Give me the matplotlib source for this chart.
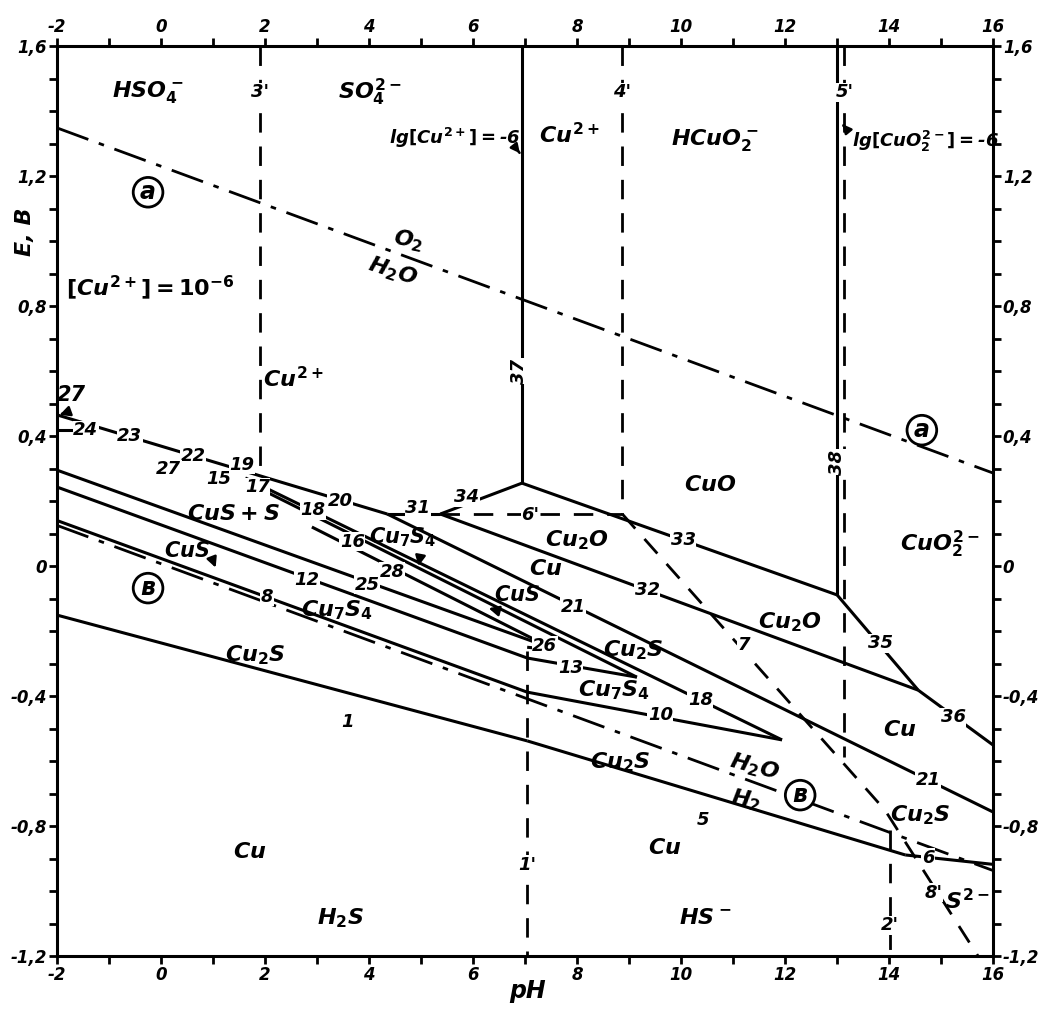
import numpy as np
import matplotlib
matplotlib.use("Agg")
import matplotlib.pyplot as plt
from matplotlib.ticker import MultipleLocator, FuncFormatter

plt.rcParams["font.family"] = ["DejaVu Sans"]
plt.rcParams["mathtext.fontset"] = "custom"
plt.rcParams["mathtext.rm"] = "DejaVu Sans:bold"
plt.rcParams["mathtext.it"] = "DejaVu Sans:italic:bold"
plt.rcParams["mathtext.bf"] = "DejaVu Sans:bold"
plt.rcParams["axes.unicode_minus"] = False

# ---- axis ranges / ticks ----
ph_range = [-2, 16]
e_range = [-1.2, 1.6]
x_ticks = [-2, 0, 2, 4, 6, 8, 10, 12, 14, 16]
y_ticks = [-1.2, -0.8, -0.4, 0.0, 0.4, 0.8, 1.2, 1.6]

# ---- water stability lines (dash-dot) ----
o2_ph = [-2, 16]
o2_e = [1.348, 0.286]
h2_ph = [-2, 16]
h2_e = [0.125, -0.937]

# ---- solid boundaries (pH list, E list) ----
b_upper = ([-2, 4.35], [0.465, 0.16])            # 23-22-19-20
b_24 = ([-2, -1.21], [0.418, 0.418])
b_31 = ([4.35, 5.37], [0.16, 0.16])
b_34 = ([5.37, 6.94], [0.16, 0.255])
b_37 = ([6.94, 6.94], [0.255, 1.6])
b_33 = ([6.94, 13.0], [0.255, -0.089])
b_38 = ([13.0, 13.0], [-0.089, 1.6])
b_35 = ([13.0, 14.56], [-0.089, -0.382])
b_36 = ([14.56, 16.0], [-0.382, -0.551])
b_32 = ([5.37, 14.56], [0.16, -0.382])
b_21 = ([4.35, 16.0], [0.16, -0.757])
b_18 = ([1.62, 11.94], [0.271, -0.535])
b_16 = ([1.75, 9.15], [0.25, -0.342])
b_28 = ([2.9, 7.6], [0.12, -0.26])
b_25 = ([-2, 7.6], [0.295, -0.258])
b_12 = ([-2, 7.04], [0.243, -0.283])
b_26 = ([7.04, 7.6], [-0.25, -0.258])
b_13 = ([7.04, 9.15], [-0.283, -0.342])
b_8 = ([-2, 7.04], [0.14, -0.388])
b_10 = ([7.04, 11.94], [-0.388, -0.535])
b_1 = ([-2, 7.04], [-0.151, -0.538])
b_5 = ([7.04, 14.31], [-0.538, -0.889])
b_6 = ([14.31, 16.0], [-0.889, -0.918])
solid_lines = [b_upper, b_24, b_31, b_34, b_37, b_33, b_38, b_35, b_36, b_32,
               b_21, b_18, b_16, b_28, b_25, b_12, b_26, b_13, b_8, b_10,
               b_1, b_5, b_6]

# ---- dashed boundaries (sulfur species) ----
d_3 = ([1.9, 1.9], [1.6, 0.28])
d_4 = ([8.87, 8.87], [1.6, 0.16])
d_5 = ([13.13, 13.13], [1.6, -0.588])
d_1 = ([7.04, 7.04], [-0.26, -1.2])
d_2 = ([14.02, 14.02], [-0.812, -1.2])
d_6 = ([5.37, 8.87], [0.16, 0.16])
d_7 = ([8.87, 13.92, 15.71], [0.16, -0.751, -1.2])
dashed_lines = [d_3, d_4, d_5, d_1, d_2, d_6, d_7]

# ---- number labels sitting on the lines ----
num_labels = [
    ("24", -1.45, 0.418), ("23", -0.6, 0.40), ("22", 0.62, 0.338),
    ("27", 0.15, 0.298), ("15", 1.1, 0.268), ("19", 1.55, 0.312),
    ("17", 1.85, 0.243), ("20", 3.44, 0.20), ("18", 2.92, 0.172),
    ("31", 4.94, 0.178), ("34", 5.88, 0.212), ("16", 3.68, 0.075),
    ("28", 4.44, -0.018), ("12", 2.81, -0.043), ("25", 3.96, -0.058),
    ("8", 2.04, -0.095), ("1", 3.58, -0.48), ("33", 10.04, 0.08),
    ("21", 7.92, -0.126), ("32", 9.35, -0.074), ("26", 7.38, -0.245),
    ("13", 7.87, -0.314), ("18", 10.37, -0.412), ("10", 9.6, -0.458),
    ("7", 11.2, -0.243), ("35", 13.83, -0.237), ("36", 15.23, -0.465),
    ("21", 14.75, -0.658), ("5", 10.42, -0.782), ("6", 14.75, -0.898),
]
prime_labels = [
    ("3'", 1.9, 1.458), ("4'", 8.87, 1.458), ("5'", 13.15, 1.458),
    ("6'", 7.1, 0.157), ("1'", 7.04, -0.92), ("2'", 14.02, -1.105),
    ("8'", 14.85, -1.005),
]

# ---- region (species) labels ----
region_labels = [
    (r"$HSO_4^-$", -0.25, 1.458), (r"$SO_4^{2-}$", 4.02, 1.458),
    (r"$Cu^{2+}$", 7.85, 1.326), (r"$HCuO_2^-$", 10.65, 1.31),
    (r"$Cu^{2+}$", 2.54, 0.578), (r"$[Cu^{2+}]=10^{-6}$", -0.21, 0.855),
    (r"$CuS+S$", 1.4, 0.16), (r"$Cu_2S$", 1.81, -0.274),
    (r"$Cu_7S_4$", 3.38, -0.135), (r"$Cu$", 1.71, -0.88),
    (r"$H_2S$", 3.44, -1.083), (r"$CuO$", 10.56, 0.249),
    (r"$Cu_2O$", 8.0, 0.08), (r"$Cu$", 7.4, -0.01),
    (r"$Cu_2S$", 9.08, -0.258), (r"$Cu_7S_4$", 8.7, -0.382),
    (r"$Cu_2O$", 12.1, -0.172), (r"$CuO_2^{2-}$", 14.98, 0.065),
    (r"$Cu$", 14.21, -0.505), (r"$Cu_2S$", 14.6, -0.766),
    (r"$Cu_2S$", 8.83, -0.603), (r"$Cu$", 9.69, -0.868),
    (r"$HS^-$", 10.46, -1.083), (r"$S^{2-}$", 15.5, -1.03),
]

# ---- annotated labels with arrows: (text, text pos, arrow target) ----
arrow_labels = [
    (r"$lg[Cu^{2+}]=$-6", (5.65, 1.317), (6.9, 1.27), 13),
    (r"$lg[CuO_2^{2-}]=$-6", (14.7, 1.305), (13.1, 1.36), 13),
    ("27", (-1.72, 0.525), (-1.95, 0.465), 15),
    (r"$Cu_7S_4$", (4.65, 0.09), (4.95, 0.0), 15),
    (r"$CuS$", (0.5, 0.046), (1.05, -0.005), 15),
    (r"$CuS$", (6.85, -0.09), (6.3, -0.13), 15),
]


def main():
    fig = plt.figure(figsize=(10.41, 10.09), dpi=100)
    ax = fig.add_axes([0.0548, 0.0525, 0.8992, 0.9019])
    ax.set_xlim(ph_range)
    ax.set_ylim(e_range)

    ax.plot(o2_ph, o2_e, color="black", lw=2.0, dashes=(12, 4, 2, 4))
    ax.plot(h2_ph, h2_e, color="black", lw=2.0, dashes=(12, 4, 2, 4))

    for ph, e in solid_lines:
        ax.plot(ph, e, color="black", lw=2.2, solid_capstyle="butt")
    for ph, e in dashed_lines:
        ax.plot(ph, e, color="black", lw=2.0, dashes=(7, 5))

    box = dict(facecolor="white", edgecolor="none", pad=0.4)
    for txt, x, y in num_labels + prime_labels:
        ax.text(x, y, txt, fontsize=13, style="italic", weight="bold",
                ha="center", va="center", bbox=box)

    ax.text(6.88, 0.6, "37", rotation=90, fontsize=13, style="italic",
            weight="bold", ha="center", va="center", bbox=box)
    ax.text(13.0, 0.32, "38", rotation=90, fontsize=13, style="italic",
            weight="bold", ha="center", va="center", bbox=box)

    for txt, x, y in region_labels:
        ax.text(x, y, txt, fontsize=16, ha="center", va="center")

    ax.text(4.75, 1.0, r"$O_2$", fontsize=16, rotation=-12,
            ha="center", va="center")
    ax.text(4.45, 0.905, r"$H_2O$", fontsize=16, rotation=-18,
            ha="center", va="center")
    ax.text(11.4, -0.62, r"$H_2O$", fontsize=16, rotation=-15,
            ha="center", va="center")
    ax.text(11.25, -0.72, r"$H_2$", fontsize=16, rotation=-10,
            ha="center", va="center")

    circ = dict(boxstyle="circle,pad=0.12", facecolor="white",
                edgecolor="black", lw=2.0)
    for x, y, txt in [(-0.25, 1.15, "a"), (14.63, 0.418, "a"),
                      (-0.25, -0.068, "в"), (12.29, -0.705, "в")]:
        ax.text(x, y, txt, fontsize=17, style="italic", weight="bold",
                ha="center", va="center", bbox=circ)

    for txt, (tx, ty), (px, py), fs in arrow_labels:
        ax.annotate(txt, xy=(px, py), xytext=(tx, ty), fontsize=fs,
                    style="italic", weight="bold", ha="center", va="center",
                    arrowprops=dict(arrowstyle="-|>", color="black", lw=1.8,
                                    connectionstyle="arc3,rad=-0.4",
                                    shrinkA=6, shrinkB=0))

    # axes and ticks on all four sides
    for sp in ax.spines.values():
        sp.set_linewidth(2.2)
    ax.xaxis.set_minor_locator(MultipleLocator(1))
    ax.yaxis.set_minor_locator(MultipleLocator(0.1))
    ax.set_xticks(x_ticks)
    ax.set_yticks(y_ticks)
    fmt = FuncFormatter(lambda v, p: ("%g" % round(v, 1)).replace(".", ","))
    ax.yaxis.set_major_formatter(fmt)
    ax.tick_params(which="both", direction="out", top=True, right=True,
                   labeltop=True, labelright=True, width=2.0)
    ax.tick_params(which="major", length=6, pad=1)
    ax.tick_params(which="minor", length=6)
    for lab in ax.get_xticklabels() + ax.get_yticklabels():
        lab.set_fontsize(12)
        lab.set_style("italic")
        lab.set_weight("bold")

    fig.text(0.024, 0.77, "E, В", rotation=90, fontsize=16, style="italic",
             weight="bold", ha="center", va="center")
    fig.text(0.507, 0.018, "pH", fontsize=17, style="italic",
             weight="bold", ha="center", va="center")

    fig.savefig("out.png", dpi=100)


if __name__ == "__main__":
    main()
